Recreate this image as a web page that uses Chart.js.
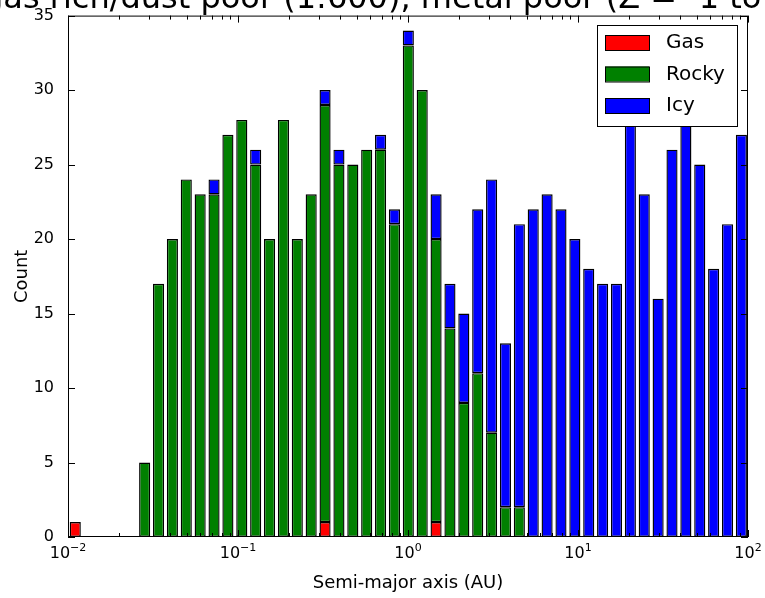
<!DOCTYPE html>
<html>
<head>
<meta charset="utf-8">
<script src="https://cdn.jsdelivr.net/npm/chart.js@4.4.0/dist/chart.umd.min.js"></script>
<style>
  body { margin: 0; background: #fff; }
</style>
</head>
<body>
<canvas id="grafico" width="765" height="598"></canvas>
<script>
// bins: 49 log-spaced bins from 1e-2 to 1e2 AU (edges as in logspace(-2, 2, 50))
const binEdges = Array.from({length: 50}, (_, i) => Math.pow(10, -2 + 4 * i / 49));
const binCenters = binEdges.slice(0, -1).map((a, i) => (a + binEdges[i + 1]) / 2);

// counts per bin, stacked gas -> rocky -> icy
const gas   = [1,0,0,0,0, 0,0,0,0,0, 0,0,0,0,0, 0,0,0,1,0, 0,0,0,0,0, 0,1,0,0,0, 0,0,0,0,0, 0,0,0,0,0, 0,0,0,0,0, 0,0,0,0];
const rocky = [0,0,0,0,0, 5,17,20,24,23, 23,27,28,25,20, 28,20,23,28,25, 25,26,26,21,33, 30,19,14,9,11, 7,2,2,0,0, 0,0,0,0,0, 0,0,0,0,0, 0,0,0,0];
const icy   = [0,0,0,0,0, 0,0,0,0,0, 1,0,0,1,0, 0,0,0,1,1, 0,0,1,1,1, 0,3,3,6,11, 17,11,19,22,23, 22,20,18,17,17, 30,23,16,26,29, 25,18,21,27];

const xTickValues = [0.01, 0.1, 1, 10, 100];
const xTickExps = ["\u22122", "\u22121", "0", "1", "2"];
const yTicks = [0, 5, 10, 15, 20, 25, 30, 35];

const seriesNames = ["Gas", "Rocky", "Icy"];
const seriesColors = ["#ff0000", "#008000", "#0000ff"];

const titulo = "gas rich/dust poor (1:600), metal poor (Z = -1 to";
const fonte = "DejaVu Sans";

// frame, inward ticks, 10^n labels, clipped title and legend box (matplotlib look)
const molduraPlugin = {
  id: "moldura",
  afterDatasetsDraw(chart) {
    const {ctx, chartArea: a, scales: {x, y}} = chart;
    ctx.save();
    ctx.strokeStyle = "#000";
    ctx.lineWidth = 1;
    ctx.strokeRect(a.left + 0.5, a.top + 0.5, a.right - a.left - 1, a.bottom - a.top - 1);

    ctx.beginPath();
    for (let k = -2; k <= 2; k++) {
      for (let m = 1; m <= 9; m++) {
        if (k === 2 && m > 1) break;
        const px = Math.round(x.getPixelForValue(m * Math.pow(10, k))) + 0.5;
        const len = m === 1 ? 7 : 4;
        ctx.moveTo(px, a.bottom); ctx.lineTo(px, a.bottom - len);
        ctx.moveTo(px, a.top); ctx.lineTo(px, a.top + len);
      }
    }
    yTicks.forEach(v => {
      const py = Math.round(y.getPixelForValue(v)) + 0.5;
      ctx.moveTo(a.left, py); ctx.lineTo(a.left + 7, py);
      ctx.moveTo(a.right, py); ctx.lineTo(a.right - 7, py);
    });
    ctx.stroke();

    // x tick labels as 10 with superscript exponent
    ctx.fillStyle = "#000";
    ctx.textAlign = "left";
    ctx.textBaseline = "alphabetic";
    xTickValues.forEach((v, i) => {
      const px = x.getPixelForValue(v);
      ctx.font = "16px '" + fonte + "'";
      const wb = ctx.measureText("10").width;
      ctx.font = "11px '" + fonte + "'";
      const we = ctx.measureText(xTickExps[i]).width;
      const x0 = px - (wb + we) / 2;
      ctx.font = "16px '" + fonte + "'";
      ctx.fillText("10", x0, a.bottom + 21);
      ctx.font = "11px '" + fonte + "'";
      ctx.fillText(xTickExps[i], x0 + wb, a.bottom + 14);
    });

    // legend
    const lx = 597, ly = 25, lw = 140, lh = 101;
    ctx.fillStyle = "#fff";
    ctx.fillRect(lx, ly, lw, lh);
    ctx.strokeRect(lx + 0.5, ly + 0.5, lw, lh);
    ctx.font = "20px '" + fonte + "'";
    ctx.textBaseline = "middle";
    seriesNames.forEach((n, i) => {
      const ry = 35 + i * 31.5;
      ctx.fillStyle = seriesColors[i];
      ctx.fillRect(605, ry, 44, 15);
      ctx.strokeRect(605.5, ry + 0.5, 44, 15);
      ctx.fillStyle = "#000";
      ctx.fillText(n, 666, ry + 8);
    });

    // title, cut off by the top edge like the original
    ctx.font = "32px '" + fonte + "'";
    ctx.textBaseline = "alphabetic";
    ctx.fillText(titulo, -17, 8);
    ctx.restore();
  }
};

const ctx = document.getElementById("grafico").getContext("2d");
const grafico = new Chart(ctx, {
  type: "bar",
  data: {
    labels: binCenters,
    datasets: [
      {label: seriesNames[0], data: gas, backgroundColor: seriesColors[0]},
      {label: seriesNames[1], data: rocky, backgroundColor: seriesColors[1]},
      {label: seriesNames[2], data: icy, backgroundColor: seriesColors[2]}
    ]
  },
  options: {
    responsive: false,
    animation: false,
    devicePixelRatio: 1,
    layout: {padding: {top: 14, right: 17, left: 0, bottom: 0}},
    datasets: {bar: {borderColor: "#000", borderWidth: 1.4, borderSkipped: false, categoryPercentage: 1, barPercentage: 0.8}},
    plugins: {legend: {display: false}, tooltip: {enabled: false}},
    scales: {
      x: {
        type: "logarithmic", min: 0.01, max: 100, stacked: true, offset: false,
        grid: {display: false}, border: {display: false},
        afterBuildTicks: s => { s.ticks = xTickValues.map(v => ({value: v})); },
        afterFit: s => { s.height = 61; },
        ticks: {display: false},
        title: {display: true, text: "Semi-major axis (AU)", color: "#000",
          font: {family: fonte, size: 18}, padding: {bottom: 4}}
      },
      y: {
        stacked: true, min: 0, max: 35,
        grid: {display: false}, border: {display: false},
        afterBuildTicks: s => { s.ticks = yTicks.map(v => ({value: v})); },
        afterFit: s => { s.width = 68; },
        ticks: {padding: 6, color: "#000", font: {family: fonte, size: 16}},
        title: {display: true, text: "Count", color: "#000",
          font: {family: fonte, size: 18}, padding: {top: 12}}
      }
    }
  },
  plugins: [molduraPlugin]
});
</script>
</body>
</html>
